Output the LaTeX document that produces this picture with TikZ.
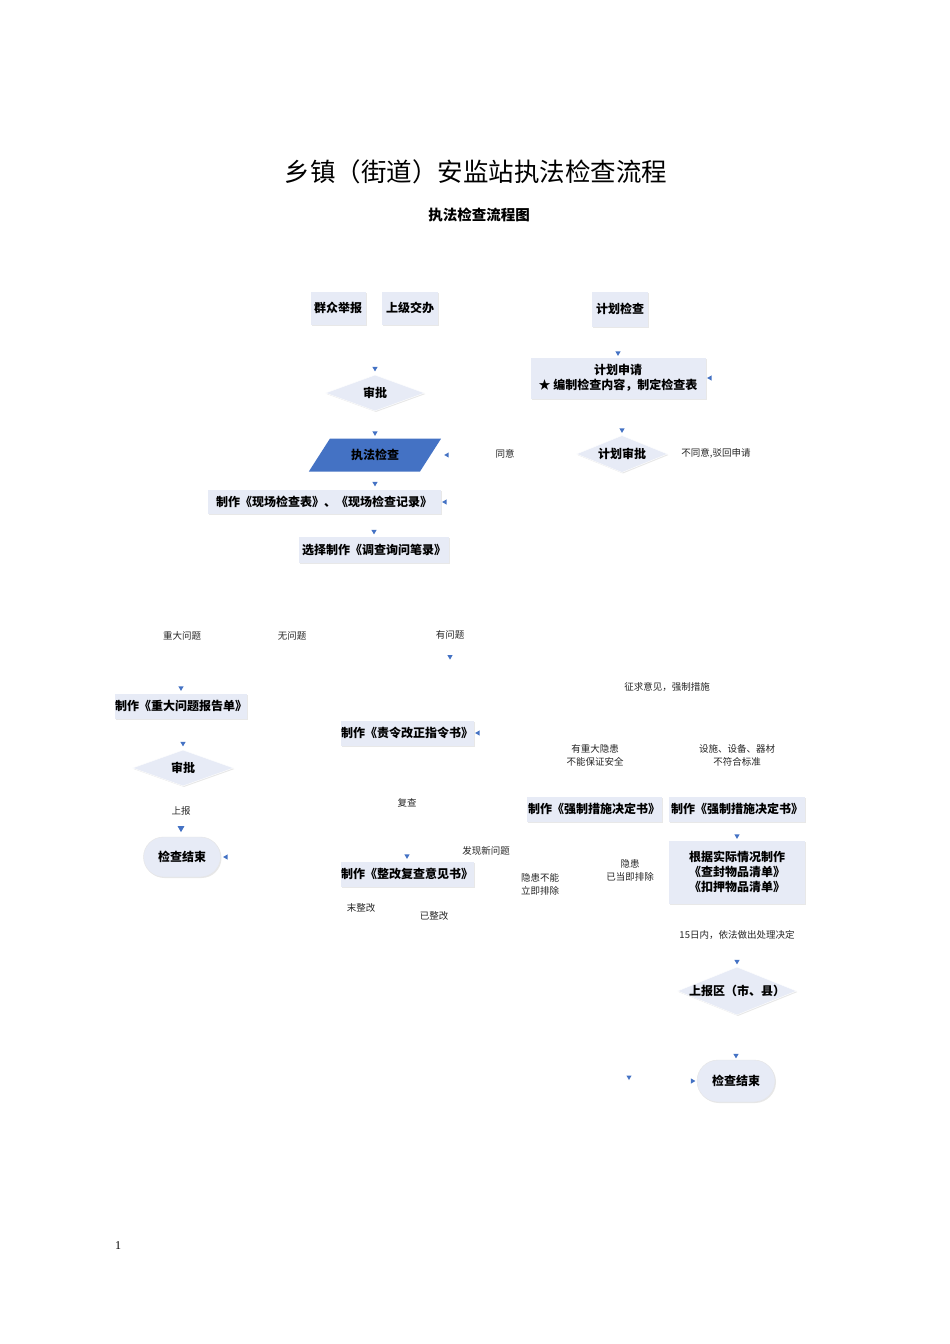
\documentclass[tikz,border=0pt]{standalone}
\usepackage{fontspec}
\setmainfont{Liberation Serif}
\newfontfamily\cjk{Noto Sans CJK SC}
\usetikzlibrary{positioning,shapes.geometric,shapes.misc,shadows}
\definecolor{boxfill}{RGB}{231,235,246}
\definecolor{tipblue}{RGB}{68,114,196}
\newcommand\dtext[1]{\makebox[0pt]{#1}}
\tikzset{
  my box/.style={fill=boxfill,drop shadow={opacity=0.18,shadow xshift=1pt,shadow yshift=-1pt},
    font=\cjk\bfseries\fontsize{12}{15}\selectfont,align=center,inner sep=0pt,minimum height=25pt},
  my diamond/.style={my box,diamond,draw=white},
  my end/.style={my box,rounded rectangle,draw=gray!20,minimum width=77pt,minimum height=40pt},
  my label/.style={font=\cjk\fontsize{9.5}{13}\selectfont,align=center,text=black!85},
  tip/.style={regular polygon,regular polygon sides=3,fill=tipblue,inner sep=0pt,minimum size=6pt},
  tipdown/.style={tip,shape border rotate=180},
  tipleft/.style={tip,shape border rotate=90},
  tipright/.style={tip,shape border rotate=-90}
}

\begin{document}
\begin{tikzpicture}[x=1pt,y=-1pt]
\useasboundingbox[fill=white] (0,0) rectangle (950,1344);

% titles
\node[font=\cjk\fontsize{25.5}{29}\selectfont] (title) at (476,172) {乡镇（街道）安监站执法检查流程};
\node[font=\cjk\bfseries\fontsize{14.5}{17}\selectfont] (subtitle) at (479,215) {执法检查流程图};

% left column
\node[my box,minimum width=55pt,minimum height=33pt] (jubao) at (338,308) {群众举报};
\node[my box,minimum width=56pt,minimum height=33pt] (jiaoban) at (410,308) {上级交办};
\node[my diamond,minimum width=99pt,minimum height=36pt] (shenpi) at (375,393) {\dtext{审批}};
\node[trapezium,trapezium left angle=46,trapezium right angle=134,trapezium stretches=true,
  fill=tipblue,minimum width=133pt,minimum height=33pt,inner sep=0pt,
  font=\cjk\bfseries\fontsize{12}{15}\selectfont] (zhifa) at (375,455) {执法检查};
\node[my box,minimum width=233pt,minimum height=24pt] (xianchang) at (324,502) {制作《现场检查表》、《现场检查记录》};
\node[my box,minimum width=150pt,minimum height=26pt] (xuanze) at (374,550) {选择制作《调查询问笔录》};

% right column
\node[my box,minimum width=56pt,minimum height=35pt] (jihua) at (620,309) {计划检查};
\node[my box,minimum width=175pt,minimum height=41pt] (shenqing) at (618,378) {计划申请\\★\ 编制检查内容，制定检查表};
\node[my diamond,minimum width=91pt,minimum height=37pt] (jhshenpi) at (622,454) {\dtext{计划审批}};
\node[my label] (tongyi) at (505,454) {同意};
\node[my label] (butongyi) at (716,453) {不同意,驳回申请};

% branches
\node[my label] (zhongda) at (182,636) {重大问题};
\node[my label] (wuwenti) at (292,636) {无问题};
\node[my label] (youwenti) at (450,635) {有问题};
\node[my box,minimum width=132pt] (baogao) at (181,706) {制作《重大问题报告单》};
\node[my diamond,minimum width=101pt,minimum height=36pt] (shenpiB) at (183,768) {\dtext{审批}};
\node[my label] (shangbao) at (181,811) {上报};
\node[my end] (endA) at (182,857) {检查结束};

\node[my box,minimum width=133pt] (zeling) at (407,733) {制作《责令改正指令书》};
\node[my label] (fucha) at (407,803) {复查};
\node[my label] (faxian) at (486,851) {发现新问题};
\node[my box,minimum width=133pt] (zhenggai) at (407,874) {制作《整改复查意见书》};
\node[my label] (weizhenggai) at (361,908) {末整改};
\node[my label] (yizhenggai) at (434,916) {已整改};

\node[my label] (zhengqiu) at (667,687) {征求意见，强制措施};
\node[my label] (yinhuan) at (595,755) {有重大隐患\\不能保证安全};
\node[my label] (sheshi) at (737,755) {设施、设备、器材\\不符合标准};
\node[my box,minimum width=135pt] (qiangzhiA) at (594,809) {制作《强制措施决定书》};
\node[my box,minimum width=136pt] (qiangzhiB) at (737,809) {制作《强制措施决定书》};
\node[my label] (buneng) at (540,884) {隐患不能\\立即排除};
\node[my label] (dangji) at (630,870) {隐患\\已当即排除};
\node[my box,minimum width=136pt,minimum height=63pt] (qingdan) at (737,872) {根据实际情况制作\\《查封物品清单》\\《扣押物品清单》};
\node[my label] (shiwuri) at (737,935) {15日内，依法做出处理决定};
\node[my diamond,minimum width=119pt,minimum height=48pt] (quxian) at (737,991) {\dtext{上报区（市、县）}};
\node[my end,minimum width=78pt,minimum height=42pt] (endB) at (736,1081) {检查结束};

% arrow tips
\node[tipdown,above=3pt of shenpi] (t1) {};
\node[tipdown,above=2pt of zhifa] (t2) {};
\node[tipleft,right=13pt of zhifa] (t3) {};
\node[tipdown,above=3pt of xianchang.north -| shenpi] (t4) {};
\node[tipleft,right=1pt of xianchang] (t5) {};
\node[tipdown,above=2pt of xuanze] (t6) {};
\node[tipdown,above=1pt of shenqing] (t7) {};
\node[tipleft,right=1pt of shenqing] (t8) {};
\node[tipdown,above=2pt of jhshenpi] (t9) {};
\node[tipdown,below=12pt of youwenti] (t10) {};
\node[tipdown,above=2pt of baogao] (t11) {};
\node[tipleft,right=1pt of zeling] (t12) {};
\node[tipdown,above=3pt of shenpiB] (t13) {};
\node[tipdown,minimum size=8pt,below=7pt of shangbao] (t14) {};
\node[tipleft,right=2pt of endA] (t15) {};
\node[tipdown,above=2pt of zhenggai] (t16) {};
\node[tipdown,above=1pt of qingdan] (t17) {};
\node[tipdown,above=2pt of quxian] (t18) {};
\node[tipdown,above=1pt of endB] (t19) {};
\node[tipright,left=1pt of endB] (t20) {};
\node[tipdown] (t21) at (629,1077) {};

% page number
\node[font=\fontsize{12}{14}\selectfont] (page) at (118,1246) {1};
\end{tikzpicture}
\end{document}
